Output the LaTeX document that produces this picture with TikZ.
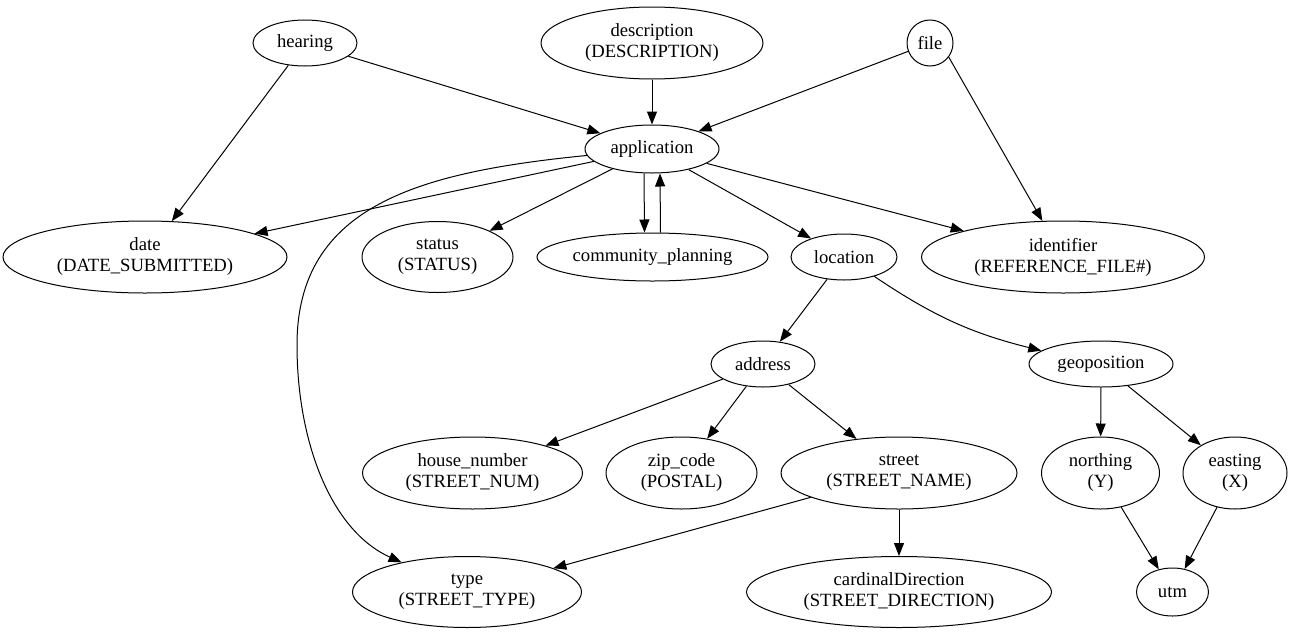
\documentclass[tikz,border=0pt]{standalone}
\usepackage{fontspec}
\setmainfont{Liberation Serif}
\newfontfamily\gvserif{Liberation Serif}
\usetikzlibrary{arrows.meta,shapes.geometric}
\begin{document}
\begin{tikzpicture}[x=1pt,y=-1pt,
  every node/.style={font=\gvserif\fontsize{18.67}{21}\selectfont},
  ent/.style={draw, ellipse, line width=1pt, inner sep=0pt, align=center},
  edge/.style={line width=1pt, -{Triangle[length=13pt,width=10pt]}}]

% canvas
\fill[white] (0,0) rectangle (1293,635);
\useasboundingbox (0,0) rectangle (1293,635);

% row 0
\node[ent, minimum width=104pt, minimum height=46pt] (hearing) at (305,43) {hearing};
\node[ent, minimum width=222pt, minimum height=72pt] (description) at (652,43) {description\\(DESCRIPTION)};
\node[ent, minimum width=46pt, minimum height=46pt] (file) at (930,43) {file};

% row 1
\node[ent, minimum width=134pt, minimum height=48pt] (application) at (652,149) {application};

% row 2
\node[ent, minimum width=284pt, minimum height=72pt] (date) at (145,257) {date\\(DATE\_SUBMITTED)};
\node[ent, minimum width=151pt, minimum height=71pt] (status) at (437.5,257) {status\\(STATUS)};
\node[ent, minimum width=231pt, minimum height=48pt] (community_planning) at (652.5,257) {community\_planning};
\node[ent, minimum width=106pt, minimum height=46pt] (location) at (844,257) {location};
\node[ent, minimum width=283pt, minimum height=72pt] (identifier) at (1063,257) {identifier\\(REFERENCE\_FILE\#)};

% row 3
\node[ent, minimum width=104pt, minimum height=46pt] (address) at (763,364) {address};
\node[ent, minimum width=144pt, minimum height=46pt] (geoposition) at (1101,364) {geoposition};

% row 4
\node[ent, minimum width=220pt, minimum height=72pt] (house_number) at (472.5,473) {house\_number\\(STREET\_NUM)};
\node[ent, minimum width=151pt, minimum height=72pt] (zip_code) at (681.5,473) {zip\_code\\(POSTAL)};
\node[ent, minimum width=236pt, minimum height=72pt] (street) at (899,473) {street\\(STREET\_NAME)};
\node[ent, minimum width=118pt, minimum height=72pt] (northing) at (1100.5,473) {northing\\(Y)};
\node[ent, minimum width=104pt, minimum height=72pt] (easting) at (1235,473) {easting\\(X)};

% row 5
\node[ent, minimum width=229pt, minimum height=71pt] (type) at (467,592) {type\\(STREET\_TYPE)};
\node[ent, minimum width=305pt, minimum height=71pt] (cardinalDirection) at (899,592) {cardinalDirection\\(STREET\_DIRECTION)};
\node[ent, minimum width=72pt, minimum height=48pt] (utm) at (1172.5,592) {utm};

% bend point of the long application -> type edge
\coordinate (typebend) at (297,345);

% edges
\draw[edge] (hearing) -- (date);
\draw[edge] (hearing) -- (application);
\draw[edge] (description) -- (application);
\draw[edge] (file) -- (application);
\draw[edge] (file.-37) -- (identifier);
\draw[edge] (application) -- (date);
\draw[edge] (application) .. controls (420,172) and (297,205) .. (typebend)
                          .. controls (297,440) and (330,530) .. (type);
\draw[edge] (application) -- (status);
\draw[edge] ([xshift=-8pt]application.south) -- ([xshift=-8pt]community_planning.north);
\draw[edge] ([xshift=8pt]community_planning.north) -- ([xshift=8pt]application.south);
\draw[edge] (application) -- (location);
\draw[edge] (application) -- (identifier);
\draw[edge] (location) -- (address);
\draw[edge] (location) to[bend right=10] (geoposition);
\draw[edge] (address) -- (house_number);
\draw[edge] (address) -- (zip_code);
\draw[edge] (address) -- (street);
\draw[edge] (geoposition) -- (northing);
\draw[edge] (geoposition) -- (easting);
\draw[edge] (street) -- (type);
\draw[edge] (street) -- (cardinalDirection);
\draw[edge] (northing) -- (utm);
\draw[edge] (easting) -- (utm);
\end{tikzpicture}
\end{document}
